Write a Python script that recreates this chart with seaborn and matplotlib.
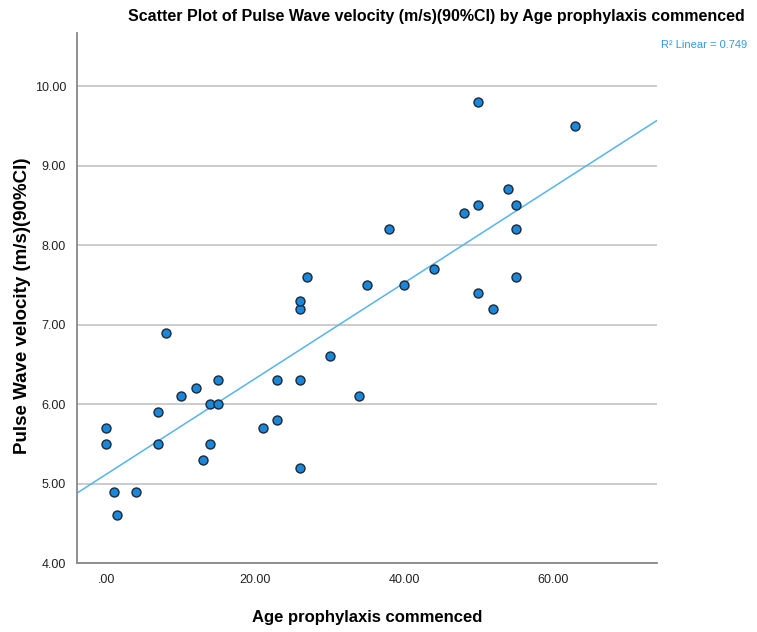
import numpy as np
import pandas as pd
import matplotlib
matplotlib.use("Agg")
import matplotlib.pyplot as plt
import seaborn as sns

# Data
age = [0, 0, 1, 1.5, 4, 7, 7, 8, 10, 12, 13, 14, 14, 15, 15, 21, 23, 23,
       26, 26, 26, 26, 27, 30, 34, 35, 38, 40, 44, 48, 50, 50, 50, 52, 54,
       55, 55, 55, 63]
pwv = [5.7, 5.5, 4.9, 4.6, 4.9, 5.9, 5.5, 6.9, 6.1, 6.2, 5.3, 6.0, 5.5, 6.3,
       6.0, 5.7, 6.3, 5.8, 6.3, 5.2, 7.2, 7.3, 7.6, 6.6, 6.1, 7.5, 8.2, 7.5,
       7.7, 8.4, 8.5, 9.8, 7.4, 7.2, 8.7, 8.5, 8.2, 7.6, 9.5]
x_ticks = [0, 20, 40, 60]
y_ticks = [4, 5, 6, 7, 8, 9, 10]
r2_text = "R\u00b2 Linear = 0.749"

df = pd.DataFrame({"age": age, "pwv": pwv})

sns.set_style("white")
plt.rcParams["font.family"] = ["Liberation Sans", "DejaVu Sans"]

fig, ax = plt.subplots(figsize=(7.57, 6.32), dpi=100)
fig.subplots_adjust(left=0.102, right=0.868, top=0.948, bottom=0.109)

ax.set_xlim(-3.9, 74)
ax.set_ylim(4, 10.67)

sns.regplot(data=df, x="age", y="pwv", ax=ax, ci=None, truncate=False,
            scatter=False, line_kws={"color": "#56b4ea", "lw": 1.1})
sns.scatterplot(data=df, x="age", y="pwv", ax=ax, s=42, color="#1a87d8",
                edgecolor="#1b2a3a", linewidth=1.0, zorder=3)

ax.set_xlim(-3.9, 74)
ax.set_ylim(4, 10.67)
ax.set_xticks(x_ticks)
ax.set_xticklabels([".00" if v == 0 else f"{v:.2f}" for v in x_ticks])
ax.set_yticks(y_ticks)
ax.set_yticklabels([f"{v:.2f}" for v in y_ticks])
ax.tick_params(length=0, labelsize=9, colors="#222222", pad=8)

ax.grid(axis="y", color="#c8c8c8", lw=1.3)
ax.set_axisbelow(True)
for s in ["top", "right"]:
    ax.spines[s].set_visible(False)
for s in ["left", "bottom"]:
    ax.spines[s].set_color("#888888")
    ax.spines[s].set_linewidth(1.3)

fig.text(436 / 757, 1 - 16 / 632,
         "Scatter Plot of Pulse Wave velocity (m/s)(90%CI) by Age prophylaxis commenced",
         fontsize=11.5, fontweight="bold", ha="center", va="center", color="black")
ax.set_xlabel("Age prophylaxis commenced", fontsize=12, fontweight="bold", color="black")
ax.xaxis.set_label_coords(0.5, -0.088)
ax.set_ylabel("Pulse Wave velocity (m/s)(90%CI)", fontsize=13.5, fontweight="bold", color="black")
ax.yaxis.set_label_coords(-0.08, 0.485)
fig.text(747 / 757, 1 - 45 / 632, r2_text, ha="right", va="center",
         color="#3399e0", fontsize=8)

fig.savefig("out.png", dpi=100)
